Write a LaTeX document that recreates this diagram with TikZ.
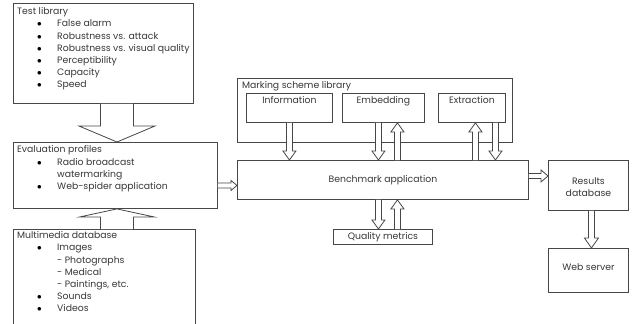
\documentclass[tikz,border=0pt]{standalone}
\usepackage{fontspec}
\setmainfont{Poppins}
\usetikzlibrary{calc}
\definecolor{ln}{HTML}{474747}
\definecolor{tx}{HTML}{383838}
\newcommand{\bul}{\textcolor{black}{$\bullet$}}
\newcommand{\itm}[1]{\makebox[40pt][l]{\hspace{20pt}\bul}#1}
\newcommand{\cnt}[1]{\hspace{40pt}#1}
\newcommand{\darr}[5]{\draw[blk] ($(#1)+(-#3,0)$) -- ($(#2)+(-#3,-#5)$) -- ($(#2)+(-#4,-#5)$) -- (#2) -- ($(#2)+(#4,-#5)$) -- ($(#2)+(#3,-#5)$) -- ($(#1)+(#3,0)$);}
\newcommand{\uarr}[5]{\draw[blk] ($(#1)+(-#3,0)$) -- ($(#2)+(-#3,#5)$) -- ($(#2)+(-#4,#5)$) -- (#2) -- ($(#2)+(#4,#5)$) -- ($(#2)+(#3,#5)$) -- ($(#1)+(#3,0)$);}
\newcommand{\rarr}[5]{\draw[blk] ($(#1)+(0,-#3)$) -- ($(#2)+(-#5,-#3)$) -- ($(#2)+(-#5,-#4)$) -- (#2) -- ($(#2)+(-#5,#4)$) -- ($(#2)+(-#5,#3)$) -- ($(#1)+(0,#3)$);}
\begin{document}
\begin{tikzpicture}[x=1pt,y=-1pt,
  font=\fontsize{9.3}{12.2}\selectfont, text=tx,
  box/.style={draw=ln, line width=0.9pt, fill=white, inner sep=0pt},
  lbl/.style={inner sep=0pt, align=left},
  blk/.style={draw=ln, line width=0.8pt, fill=white, line join=miter}]
\useasboundingbox (0,0) rectangle (635,324);
% boxes
\node[box, anchor=north west, minimum width=180pt, minimum height=100pt] (tl) at (13,3) {};
\node[box, anchor=north west, minimum width=204pt, minimum height=66pt] (ep) at (13,142) {};
\node[box, anchor=north west, minimum width=182pt, minimum height=110pt] (mm) at (13,229) {};
\node[box, anchor=north west, minimum width=275pt, minimum height=64pt] (ms) at (237,78) {};
\node[box, anchor=north west, minimum width=86pt, minimum height=29pt] (info) at (246,93) {};
\node[box, anchor=north west, minimum width=82pt, minimum height=29pt] (emb) at (342,93) {};
\node[box, anchor=north west, minimum width=67pt, minimum height=29pt] (ext) at (438,93) {};
\node[box, anchor=north west, minimum width=291pt, minimum height=39pt] (bench) at (237,160) {};
\node[box, anchor=north west, minimum width=99pt, minimum height=15pt] (qm) at (333,229) {};
\node[box, anchor=north west, minimum width=80pt, minimum height=50pt] (res) at (548,160) {};
\node[box, anchor=north west, minimum width=80pt, minimum height=44pt] (web) at (548,248) {};
% texts
\node[lbl, anchor=north west] (tlt) at (17,7.5) {Test library\\
\itm{False alarm}\\ \itm{Robustness vs. attack}\\ \itm{Robustness vs. visual quality}\\
\itm{Perceptibility}\\ \itm{Capacity}\\ \itm{Speed}};
\node[lbl, anchor=north west] (ept) at (17,145.5) {Evaluation profiles\\
\itm{Radio broadcast}\\ \cnt{watermarking}\\ \itm{Web-spider application}};
\node[lbl, anchor=north west] (mmt) at (17,231.5) {Multimedia database\\
\itm{Images}\\ \cnt{- Photographs}\\ \cnt{- Medical}\\ \cnt{- Paintings, etc.}\\
\itm{Sounds}\\ \itm{Videos}};
\node[lbl, anchor=north west] (mst) at (242,81) {Marking scheme library};
\node[lbl, anchor=north] (infot) at ($(info.north)+(0,3)$) {Information};
\node[lbl, anchor=north] (embt) at ($(emb.north)+(0,3)$) {Embedding};
\node[lbl, anchor=north] (extt) at ($(ext.north)+(0,3)$) {Extraction};
\node[lbl] (bencht) at (bench.center) {Benchmark application};
\node[lbl] (qmt) at (qm.center) {Quality metrics};
\node[lbl, align=center] (rest) at ($(res.center)+(0,2)$) {Results\\database};
\node[lbl] (webt) at ($(web.center)+(0,-3)$) {Web server};
% arrows
\coordinate (a1) at ($(tl.south)+(13.5,0)$); \coordinate (b1) at (a1 |- ep.north);
\darr{a1}{b1}{16.5}{38}{16}
\coordinate (a2) at ($(mm.north)+(12.5,0)$); \coordinate (b2) at (a2 |- ep.south);
\uarr{a2}{b2}{16.5}{37}{8}
\coordinate (a3) at ($(ep.east)+(0,10)$); \coordinate (b3) at (a3 -| bench.west);
\rarr{a3}{b3}{2.5}{5}{6}
\coordinate (a4) at ($(bench.east)+(0,-4)$); \coordinate (b4) at (a4 -| res.west);
\rarr{a4}{b4}{2.5}{6}{7}
\coordinate (a5) at ($(res.south)+(3,0)$); \coordinate (b5) at (a5 |- web.north);
\darr{a5}{b5}{3}{7}{10}
\coordinate (a6) at (info.south); \coordinate (b6) at (a6 |- bench.north);
\darr{a6}{b6}{3}{6.5}{9}
\coordinate (a7) at ($(emb.south)+(-5,0)$); \coordinate (b7) at (a7 |- bench.north);
\darr{a7}{b7}{3}{6.5}{9}
\coordinate (a8) at ($(bench.north)+(14.5,0)$); \coordinate (b8) at (a8 |- emb.south);
\uarr{a8}{b8}{3}{6.5}{9}
\coordinate (a9) at ($(bench.north)+(92.5,0)$); \coordinate (b9) at (a9 |- ext.south);
\uarr{a9}{b9}{3}{6.5}{9}
\coordinate (a10) at ($(ext.south)+(23.5,0)$); \coordinate (b10) at (a10 |- bench.north);
\darr{a10}{b10}{3}{6.5}{9}
\coordinate (a11) at ($(bench.south)+(-4.5,0)$); \coordinate (b11) at (a11 |- qm.north);
\darr{a11}{b11}{3}{6.5}{9}
\coordinate (a12) at ($(qm.north)+(14.5,0)$); \coordinate (b12) at (a12 |- bench.south);
\uarr{a12}{b12}{3}{6.5}{9}
\end{tikzpicture}
\end{document}
